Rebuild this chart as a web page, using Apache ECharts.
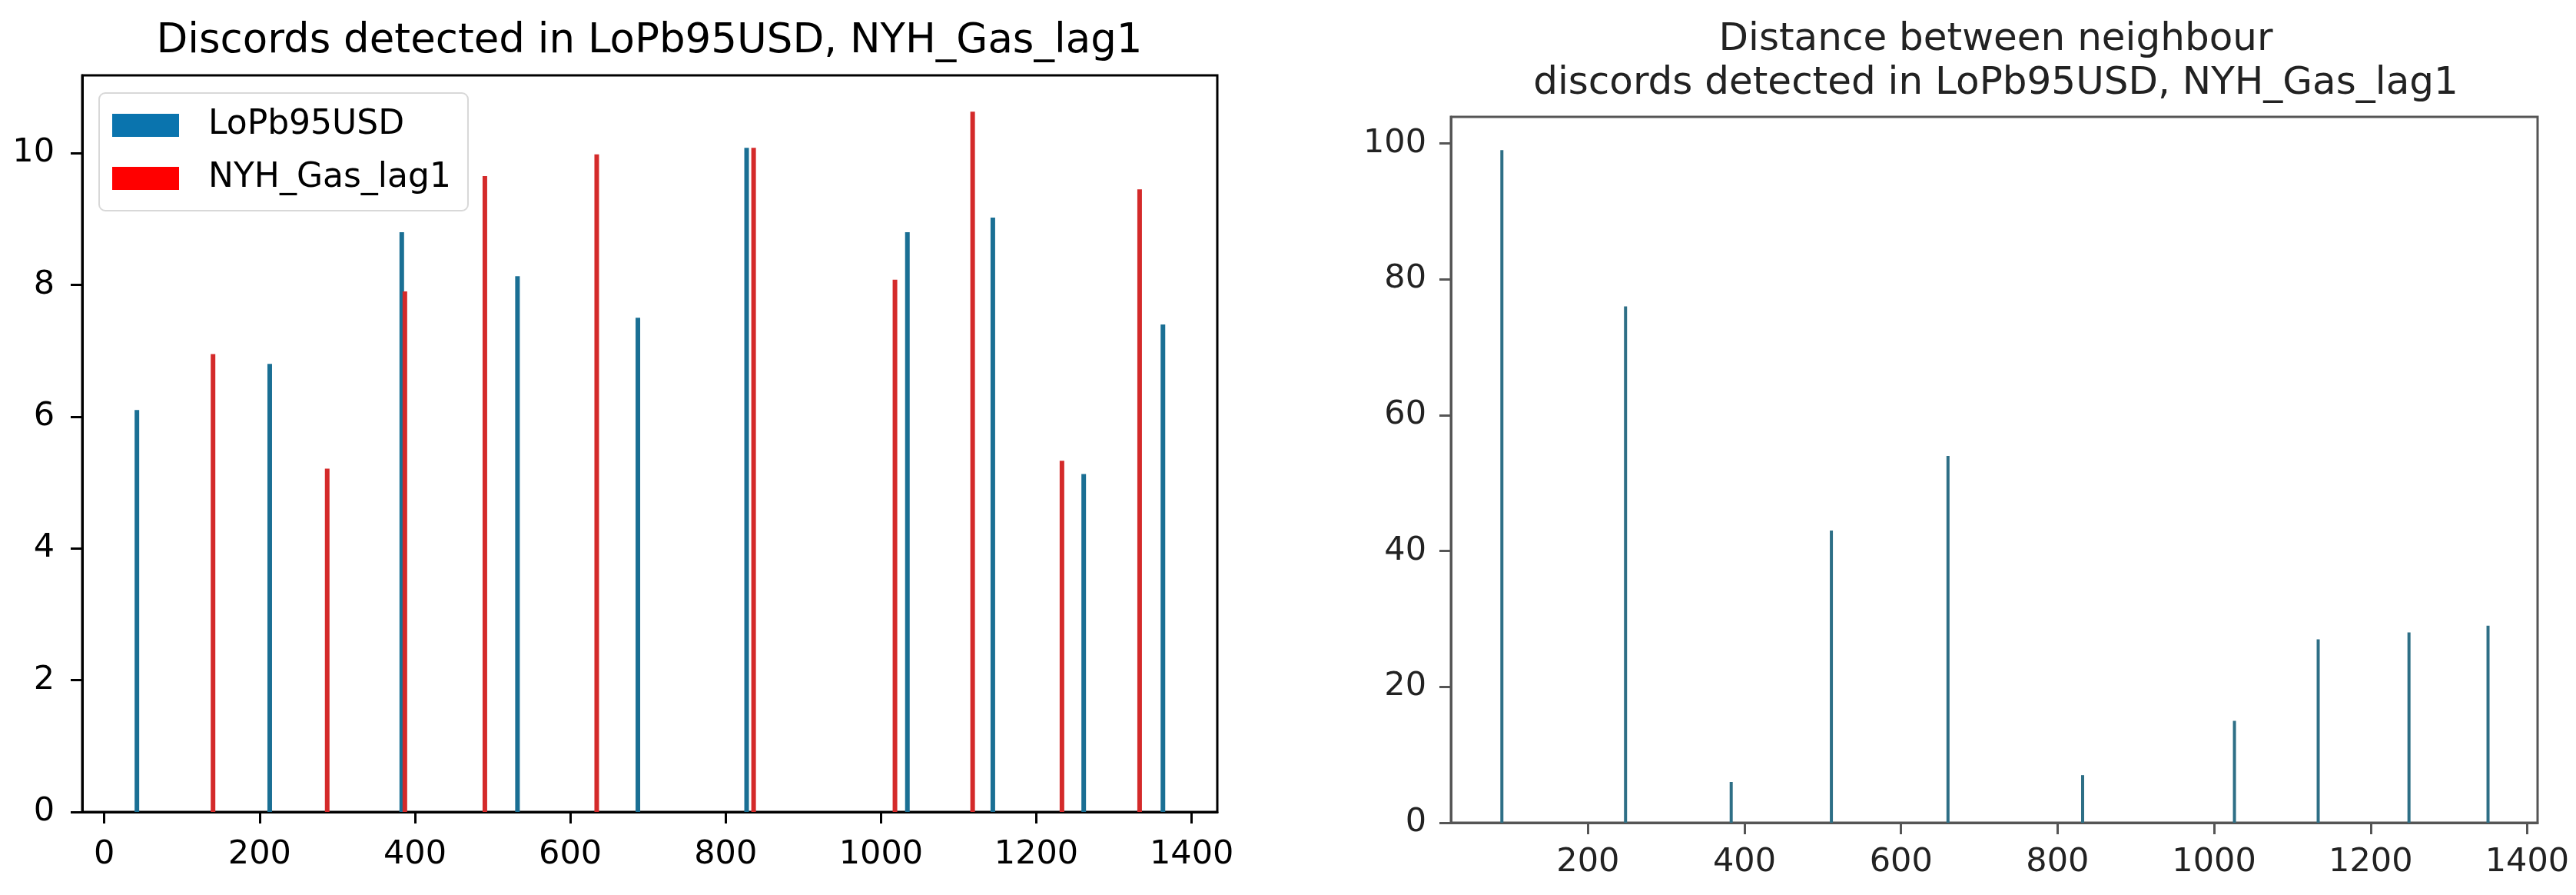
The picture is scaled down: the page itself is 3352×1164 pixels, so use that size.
<!DOCTYPE html>
<html>
<head>
<meta charset="utf-8">
<script src="https://cdn.jsdelivr.net/npm/echarts@6/dist/echarts.min.js"></script>
<style>
html,body{margin:0;padding:0;background:#fff;}
#chart{width:3352px;height:1164px;}
</style>
</head>
<body>
<div id="chart"></div>
<script>
// ---- Data ----
const leftTitle = 'Discords detected in LoPb95USD, NYH_Gas_lag1';
const rightTitleLines = ['Distance between neighbour', 'discords detected in LoPb95USD, NYH_Gas_lag1'];
const seriesNames = ['LoPb95USD', 'NYH_Gas_lag1'];

const loPbPositions = [42, 213, 383, 532, 687, 827, 1034, 1144, 1261, 1363];
const loPbValues    = [6.1, 6.8, 8.8, 8.13, 7.5, 10.08, 8.8, 9.02, 5.13, 7.4];

const nyhPositions  = [140, 287, 387, 490, 634, 836, 1018, 1118, 1233, 1333];
const nyhValues     = [6.95, 5.21, 7.9, 9.65, 9.98, 10.08, 8.08, 10.63, 5.33, 9.45];

const distPositions = [90, 248, 383, 511, 660, 832, 1026, 1133, 1249, 1350];
const distValues    = [99, 76, 6, 43, 54, 7, 15, 27, 28, 29];

const leftXTicks  = [0, 200, 400, 600, 800, 1000, 1200, 1400];
const leftYTicks  = [0, 2, 4, 6, 8, 10];
const rightXTicks = [200, 400, 600, 800, 1000, 1200, 1400];
const rightYTicks = [0, 20, 40, 60, 80, 100];

// ---- Build ----
const FONT = 'DejaVu Sans';
const pairs = (xs, ys) => xs.map((x, i) => [x, ys[i]]);

const chart = echarts.init(document.getElementById('chart'), null, {renderer: 'canvas'});

function xAxisCfg(gridIndex, min, max, ticks, color, margin) {
  return {
    type: 'value', gridIndex, min, max,
    splitLine: {show: false},
    axisLine: {show: true, onZero: false, lineStyle: {color, width: 3}},
    axisTick: {show: true, inside: false, length: 15, lineStyle: {color, width: 3}, customValues: ticks},
    axisLabel: {show: true, color: color === '#000' ? '#000' : '#222', fontFamily: FONT, fontSize: 43, margin, customValues: ticks, formatter: v => String(v)}
  };
}
function yAxisCfg(gridIndex, min, max, ticks, color, margin) {
  return {
    type: 'value', gridIndex, min, max,
    splitLine: {show: false},
    axisLine: {show: true, onZero: false, lineStyle: {color, width: 3}},
    axisTick: {show: true, inside: false, length: 15, lineStyle: {color, width: 3}, customValues: ticks},
    axisLabel: {show: true, color: color === '#000' ? '#000' : '#222', fontFamily: FONT, fontSize: 43, margin, customValues: ticks, formatter: v => String(v)}
  };
}

const option = {
  backgroundColor: '#fff',
  animation: false,
  graphic: [
    {type: 'text', left: null, x: 845, y: 54, style: {text: leftTitle, fill: '#000', font: '53px "DejaVu Sans"', textAlign: 'center', textVerticalAlign: 'middle'}},
    {type: 'text', x: 2597, y: 52, style: {text: rightTitleLines[0], fill: '#222', font: '50px "DejaVu Sans"', textAlign: 'center', textVerticalAlign: 'middle'}},
    {type: 'text', x: 2597, y: 109, style: {text: rightTitleLines[1], fill: '#222', font: '50px "DejaVu Sans"', textAlign: 'center', textVerticalAlign: 'middle'}}
  ],
  legend: {
    left: 129, top: 121,
    orient: 'vertical',
    padding: [20, 22, 20, 17],
    itemWidth: 87, itemHeight: 30,
    itemGap: 25,
    icon: 'rect',
    borderColor: '#d8d8d8', borderWidth: 2, borderRadius: 8,
    backgroundColor: '#fff',
    textStyle: {fontFamily: FONT, fontSize: 44, color: '#000', padding: [0, 0, 0, 33], lineHeight: 44},
    data: [
      {name: seriesNames[0], itemStyle: {color: '#0a74ae'}},
      {name: seriesNames[1], itemStyle: {color: '#ff0000'}}
    ]
  },
  grid: [
    {left: 107, top: 98, width: 1477, height: 958, show: true, borderColor: '#000', borderWidth: 3, backgroundColor: 'transparent', containLabel: false},
    {left: 1888, top: 152, width: 1414, height: 918, show: true, borderColor: '#555', borderWidth: 3, backgroundColor: 'transparent', containLabel: false}
  ],
  xAxis: [
    xAxisCfg(0, -28.4, 1433, leftXTicks, '#000', 34),
    xAxisCfg(1, 24.9, 1413.3, rightXTicks, '#555', 30)
  ],
  yAxis: [
    yAxisCfg(0, 0, 11.18, leftYTicks, '#000', 36),
    yAxisCfg(1, 0, 103.9, rightYTicks, '#555', 32)
  ],
  series: [
    {name: seriesNames[0], type: 'bar', xAxisIndex: 0, yAxisIndex: 0, barWidth: 6, barGap: '-100%',
     itemStyle: {color: '#1a6f94'}, data: pairs(loPbPositions, loPbValues)},
    {name: seriesNames[1], type: 'bar', xAxisIndex: 0, yAxisIndex: 0, barWidth: 6, barGap: '-100%',
     itemStyle: {color: '#d42a2a'}, data: pairs(nyhPositions, nyhValues)},
    {name: 'distance', type: 'bar', xAxisIndex: 1, yAxisIndex: 1, barWidth: 4,
     itemStyle: {color: '#2e6f86'}, data: pairs(distPositions, distValues)}
  ]
};
chart.setOption(option);
</script>
</body>
</html>
